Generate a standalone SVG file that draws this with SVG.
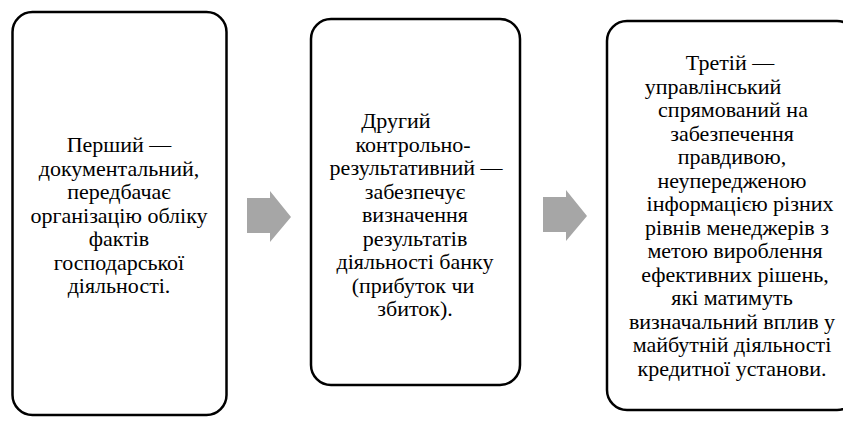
<svg xmlns="http://www.w3.org/2000/svg" width="843" height="421" viewBox="0 0 843 421">
<defs>
<path id="arrow" d="M0,7 H23 V0 L44,26 L23,51 V42 H0 Z" fill="#a6a6a6"/>
</defs>
<rect width="843" height="421" fill="#fff"/>
<g id="node1">
<rect x="12.5" y="12" width="214" height="403" rx="20" fill="#fff" stroke="#000" stroke-width="2.5"/>
</g>
<text x="119" y="152" font-family="Liberation Serif" font-size="22" text-anchor="middle">Перший —</text>
<text x="119" y="175.5" font-family="Liberation Serif" font-size="22" text-anchor="middle">документальний,</text>
<text x="119" y="199" font-family="Liberation Serif" font-size="22" text-anchor="middle">передбачає</text>
<text x="119" y="222.5" font-family="Liberation Serif" font-size="22" text-anchor="middle">організацію обліку</text>
<text x="119" y="246" font-family="Liberation Serif" font-size="22" text-anchor="middle">фактів</text>
<text x="119" y="269.5" font-family="Liberation Serif" font-size="22" text-anchor="middle">господарської</text>
<text x="119" y="293" font-family="Liberation Serif" font-size="22" text-anchor="middle">діяльності.</text>
<g id="node2">
<rect x="311" y="19" width="209" height="366" rx="20" fill="#fff" stroke="#000" stroke-width="2.5"/>
<text x="396" y="128" font-family="Liberation Serif" font-size="22" text-anchor="middle">Другий</text>
<text x="413" y="151.5" font-family="Liberation Serif" font-size="22" text-anchor="middle">контрольно-</text>
<text x="416" y="175" font-family="Liberation Serif" font-size="22" text-anchor="middle">результативний —</text>
<text x="415" y="198.5" font-family="Liberation Serif" font-size="22" text-anchor="middle">забезпечує</text>
<text x="415" y="222" font-family="Liberation Serif" font-size="22" text-anchor="middle">визначення</text>
<text x="415" y="245.5" font-family="Liberation Serif" font-size="22" text-anchor="middle">результатів</text>
<text x="415" y="269" font-family="Liberation Serif" font-size="22" text-anchor="middle">діяльності банку</text>
<text x="413" y="292.5" font-family="Liberation Serif" font-size="22" text-anchor="middle">(прибуток чи</text>
<text x="415" y="316" font-family="Liberation Serif" font-size="22" text-anchor="middle">збиток).</text>
</g>
<g id="node3">
<rect x="607" y="21" width="250" height="389" rx="20" fill="#fff" stroke="#000" stroke-width="2.5"/>
<text x="730" y="70" font-family="Liberation Serif" font-size="22" text-anchor="middle">Третій —</text>
<text x="713" y="93.5" font-family="Liberation Serif" font-size="22" text-anchor="middle">управлінський</text>
<text x="733" y="117" font-family="Liberation Serif" font-size="22" text-anchor="middle">спрямований на</text>
<text x="732" y="140.5" font-family="Liberation Serif" font-size="22" text-anchor="middle">забезпечення</text>
<text x="732" y="164" font-family="Liberation Serif" font-size="22" text-anchor="middle">правдивою,</text>
<text x="732" y="187.5" font-family="Liberation Serif" font-size="22" text-anchor="middle">неупередженою</text>
<text x="740" y="211" font-family="Liberation Serif" font-size="22" text-anchor="middle">інформацією різних</text>
<text x="737" y="234.5" font-family="Liberation Serif" font-size="22" text-anchor="middle">рівнів менеджерів з</text>
<text x="735" y="258" font-family="Liberation Serif" font-size="22" text-anchor="middle">метою вироблення</text>
<text x="735" y="281.5" font-family="Liberation Serif" font-size="22" text-anchor="middle">ефективних рішень,</text>
<text x="732" y="305" font-family="Liberation Serif" font-size="22" text-anchor="middle">які матимуть</text>
<text x="732" y="328.5" font-family="Liberation Serif" font-size="22" text-anchor="middle">визначальний вплив у</text>
<text x="732" y="352" font-family="Liberation Serif" font-size="22" text-anchor="middle">майбутній діяльності</text>
<text x="732" y="375.5" font-family="Liberation Serif" font-size="22" text-anchor="middle">кредитної установи.</text>
</g>
<g id="connectors">
<use href="#arrow" x="247" y="191"/>
<use href="#arrow" x="543" y="190"/>
</g>
</svg>
